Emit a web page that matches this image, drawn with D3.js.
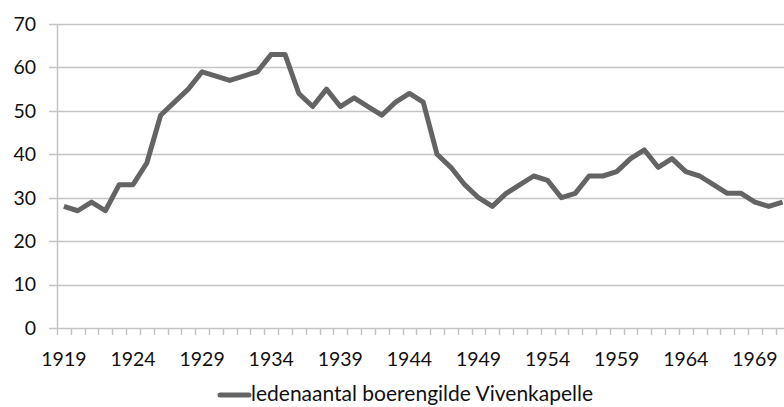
<!DOCTYPE html>
<html>
<head>
<meta charset="utf-8">
<script src="https://cdn.jsdelivr.net/npm/d3@7"></script>
<style>
  body { margin: 0; background: #fff; }
  svg { display: block; font-family: Lato, "Open Sans", sans-serif; }
</style>
</head>
<body>
<svg id="chart"></svg>
<script>
// ledenaantal per jaar
const years = d3.range(1919, 1972);
const members = [28, 27, 29, 27, 33, 33, 38, 49, 52, 55,
    59, 58, 57, 58, 59, 63, 63, 54, 51, 55,
    51, 53, 51, 49, 52, 54, 52, 40, 37, 33,
    30, 28, 31, 33, 35, 34, 30, 31, 35, 35,
    36, 39, 41, 37, 39, 36, 35, 33, 31, 31,
    29, 28, 29];
const yTicks = [0, 10, 20, 30, 40, 50, 60, 70];
const xLabels = years.filter(y => (y - 1919) % 5 === 0);
const seriesName = "ledenaantal boerengilde Vivenkapelle";

const width = 784, height = 407;
const margin = { left: 57, top: 24, bottom: 79 };
const lineColor = "#646464";
const gridColor = "#c4c4c4";

const svg = d3.select("#chart")
    .attr("width", width)
    .attr("height", height);

const x = d3.scaleBand()
    .domain(years)
    .range([margin.left, margin.left + years.length * 13.82]);

const y = d3.scaleLinear()
    .domain([0, 70])
    .range([height - margin.bottom, margin.top]);

// gridlines
svg.append("g")
    .selectAll("line")
    .data(yTicks)
    .join("line")
    .attr("x1", margin.left - 8)
    .attr("x2", width)
    .attr("y1", d => Math.round(y(d)) + 0.5)
    .attr("y2", d => Math.round(y(d)) + 0.5)
    .attr("stroke", gridColor)
    .attr("stroke-width", 1.5);

// y axis line
svg.append("line")
    .attr("x1", margin.left + 0.5).attr("x2", margin.left + 0.5)
    .attr("y1", y(70)).attr("y2", y(0))
    .attr("stroke", gridColor)
    .attr("stroke-width", 1.5);

// x tick marks at category boundaries
const bounds = years.map(d => x(d)).concat([x(years[years.length - 1]) + x.bandwidth()]);
svg.append("g")
    .selectAll("line")
    .data(bounds)
    .join("line")
    .attr("x1", d => Math.round(d) + 0.5)
    .attr("x2", d => Math.round(d) + 0.5)
    .attr("y1", y(0))
    .attr("y2", y(0) + 7)
    .attr("stroke", gridColor)
    .attr("stroke-width", 1.5);

// y labels
svg.append("g")
    .selectAll("text")
    .data(yTicks)
    .join("text")
    .attr("x", 36)
    .attr("y", d => y(d))
    .attr("dy", "0.35em")
    .attr("text-anchor", "end")
    .attr("font-size", 19.5)
    .attr("fill", "#111")
    .text(d => d);

// x labels
svg.append("g")
    .selectAll("text")
    .data(xLabels)
    .join("text")
    .attr("x", d => x(d) + x.bandwidth() / 2)
    .attr("y", 366)
    .attr("text-anchor", "middle")
    .attr("font-size", 19.5)
    .attr("fill", "#111")
    .text(d => d);

// the line
const line = d3.line()
    .x((d, i) => x(years[i]) + x.bandwidth() / 2)
    .y(d => y(d));

svg.append("path")
    .datum(members)
    .attr("d", line)
    .attr("fill", "none")
    .attr("stroke", lineColor)
    .attr("stroke-width", 5)
    .attr("stroke-linejoin", "round");

// legend (kept just inside the bottom edge)
const legend = svg.append("g").attr("transform", "translate(220, 395)");
legend.append("line")
    .attr("x1", 0).attr("x2", 29)
    .attr("stroke", lineColor)
    .attr("stroke-width", 5)
    .attr("stroke-linecap", "round");
legend.append("text")
    .attr("x", 31)
    .attr("y", 6)
    .attr("font-size", 21)
    .attr("fill", "#111")
    .text(seriesName);
</script>
</body>
</html>
